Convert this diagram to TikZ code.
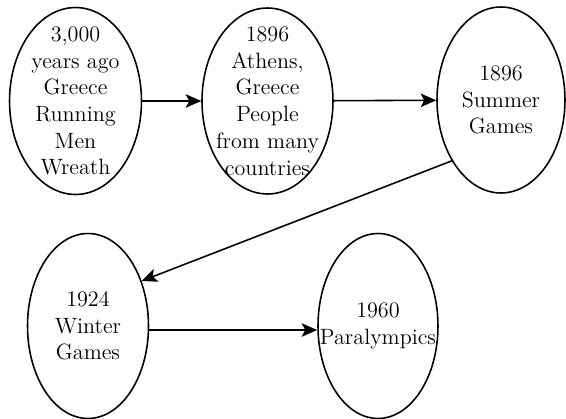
\documentclass[tikz,border=0pt]{standalone}
\usepackage{tikz}
\usetikzlibrary{shapes.geometric,arrows.meta}

\begin{document}
\begin{tikzpicture}[x=0.02cm,y=-0.02cm,
  event/.style={draw,ellipse,line width=0.9pt,inner sep=0pt},
  eventtext/.style={align=center,inner sep=0pt,font=\fontsize{12.6}{15.2}\selectfont},
  link/.style={line width=0.9pt,-{Stealth[length=3.1mm,width=2.7mm,inset=0.7mm]}}]
\useasboundingbox (0,0) rectangle (566,419);
  \node[event,minimum width=2.64cm,minimum height=3.74cm,
    label={[eventtext]center:3,000\\years ago\\Greece\\Running\\Men\\Wreath}] (ancient) at (75.5,101) {};
  \node[event,minimum width=2.62cm,minimum height=3.72cm,
    label={[eventtext]center:1896\\Athens,\\Greece\\People\\from many\\countries}] (athens) at (267.5,101) {};
  \node[event,minimum width=2.56cm,minimum height=3.72cm,
    label={[eventtext]center:1896\\Summer\\Games}] (summer) at (501,100) {};
  \node[event,minimum width=2.42cm,minimum height=3.70cm,
    label={[eventtext]center:1924\\Winter\\Games}] (winter) at (88,326) {};
  \node[event,minimum width=2.40cm,minimum height=3.70cm,
    label={[eventtext]center:1960\\Paralympics}] (para) at (378,326) {};
  \draw[link] (ancient) -- (athens);
  \draw[link] (athens) -- (summer);
  \draw[link] (summer.231) -- (winter.40);
  \draw[link] (winter.east |- 0,330) -- (para.west |- 0,330);
\end{tikzpicture}
\end{document}
